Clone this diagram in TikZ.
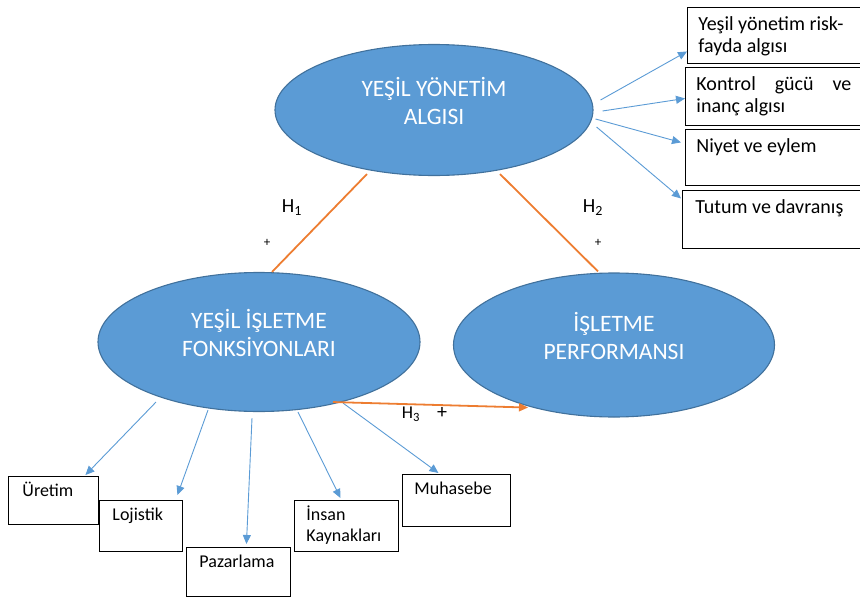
\documentclass[tikz,border=0pt]{standalone}
\usepackage{fontspec}
\setmainfont{Carlito}
\usetikzlibrary{shapes.geometric,arrows.meta}
\definecolor{ellfill}{HTML}{5B9BD5}
\definecolor{elldraw}{HTML}{41719C}
\definecolor{arrblue}{HTML}{5B9BD5}
\definecolor{orangeline}{HTML}{ED7D31}
\newcommand{\ellt}[1]{\raisebox{5pt}[\height][\depth]{\begin{tabular}{@{}c@{}}#1\end{tabular}}}
\newcommand{\rbt}[3]{\parbox[t][#2][t]{#1}{\vspace*{7.6pt}\strut#3}}
\newcommand{\bbt}[3]{\parbox[t][#2][t]{#1}{\vspace*{5.3pt}\strut#3}}
\begin{document}
\begin{tikzpicture}[x=1pt,y=-1pt,
  ell/.style={ellipse, draw=elldraw, line width=1.1pt, fill=ellfill, inner sep=0pt,
    text=white, font=\fontsize{23.5}{28}\selectfont},
  rbox/.style={draw=black, line width=0.9pt, anchor=north west, inner ysep=0pt,
    font=\fontsize{20}{22}\selectfont},
  bbox/.style={draw=black, line width=0.9pt, anchor=north west, inner ysep=0pt,
    font=\fontsize{18}{21}\selectfont},
  barr/.style={draw=arrblue, line width=0.9pt, -{Triangle[length=9pt,width=8pt]}},
  oline/.style={draw=orangeline, line width=1.8pt},
  oarr/.style={draw=orangeline, line width=1.8pt, -{Triangle[length=9pt,width=8pt]}},
  hlab/.style={inner sep=0pt, font=\fontsize{20}{22}\selectfont},
  plus/.style={inner sep=0pt, font=\fontsize{13}{15}\selectfont},
]
\useasboundingbox (0,0) rectangle (860,597);

% ellipses
\node[ell, minimum width=318pt, minimum height=131pt] (top) at (434,110)
  {\ellt{YEŞİL YÖNETİM\\ALGISI}};
\node[ell, minimum width=322pt, minimum height=139pt] (lft) at (259,342)
  {\ellt{YEŞİL İŞLETME\\FONKSİYONLARI}};
\node[ell, minimum width=321pt, minimum height=144pt] (rgt) at (614,345)
  {\ellt{İŞLETME\\PERFORMANSI}};

% right boxes
\node[rbox, inner xsep=11pt] (b1) at (687,7) {\rbt{153pt}{56pt}{Yeşil yönetim risk-\\fayda algısı}};
\node[rbox, inner xsep=11pt] (b2) at (685,67) {\rbt{155pt}{58pt}{Kontrol gücü ve\linebreak inanç algısı}};
\node[rbox, inner xsep=11pt] (b3) at (685,129) {\rbt{155pt}{56pt}{Niyet ve eylem}};
\node[rbox, inner xsep=13pt] (b4) at (682,190) {\rbt{154pt}{58pt}{Tutum ve davranış}};

% bottom boxes
\node[bbox, inner xsep=14pt] (ure) at (8,476) {\bbt{62pt}{48pt}{Üretim}};
\node[bbox, inner xsep=13pt] (loj) at (99,500) {\bbt{57pt}{51pt}{Lojistik}};
\node[bbox, inner xsep=13pt] (paz) at (186,547) {\bbt{78pt}{49pt}{Pazarlama}};
\node[bbox, inner xsep=12pt] (ins) at (294,500) {\bbt{80pt}{51pt}{İnsan\\Kaynakları}};
\node[bbox, inner xsep=12pt] (muh) at (402,474) {\bbt{84pt}{52pt}{Muhasebe}};

% blue arrows to right boxes
\draw[barr] ([shift={(7,-10)}]top.east) -- ([shift={(0,16)}]b1.west);
\draw[barr] ([shift={(9,1)}]top.east) -- ([shift={(0,2)}]b2.west);
\draw[barr] ([shift={(2,9)}]top.east) -- ([shift={(-4,-15)}]b3.west);
\draw[barr] ([shift={(3,17)}]top.east) -- ([shift={(-1,-21)}]b4.west);

% blue arrows to bottom boxes
\draw[barr] ([shift={(-103,-10)}]lft.south) -- ([shift={(32,-1)}]ure.north);
\draw[barr] ([shift={(-51,-2)}]lft.south) -- ([shift={(36.5,-5)}]loj.north);
\draw[barr] ([shift={(-7,6)}]lft.south) -- ([shift={(8,-3)}]paz.north);
\draw[barr] ([shift={(39,0)}]lft.south) -- ([shift={(-6,-2)}]ins.north);
\draw[barr] ([shift={(84,-9)}]lft.south) -- ([shift={(-18,-1)}]muh.north);

% orange relations
\draw[oline] ([shift={(-67,-2)}]top.south) -- ([shift={(13,0)}]lft.north);
\draw[oline] ([shift={(66,-2)}]top.south) -- ([shift={(-16,-1)}]rgt.north);
\draw[oarr] ([shift={(74,-10)}]lft.south) -- ([shift={(-86,-10)}]rgt.south);

% labels
\node[hlab] (h1) at (292,208) {H\textsubscript{1}};
\node[plus] (p1) at (267,243) {+};
\node[hlab] (h2) at (593,208) {H\textsubscript{2}};
\node[plus] (p2) at (598,243) {+};
\node[hlab, font=\fontsize{18}{20}\selectfont] (h3) at (411,414) {H\textsubscript{3}};
\node[hlab, font=\fontsize{20}{22}\selectfont] (p3) at (442,413) {+};
\end{tikzpicture}
\end{document}
